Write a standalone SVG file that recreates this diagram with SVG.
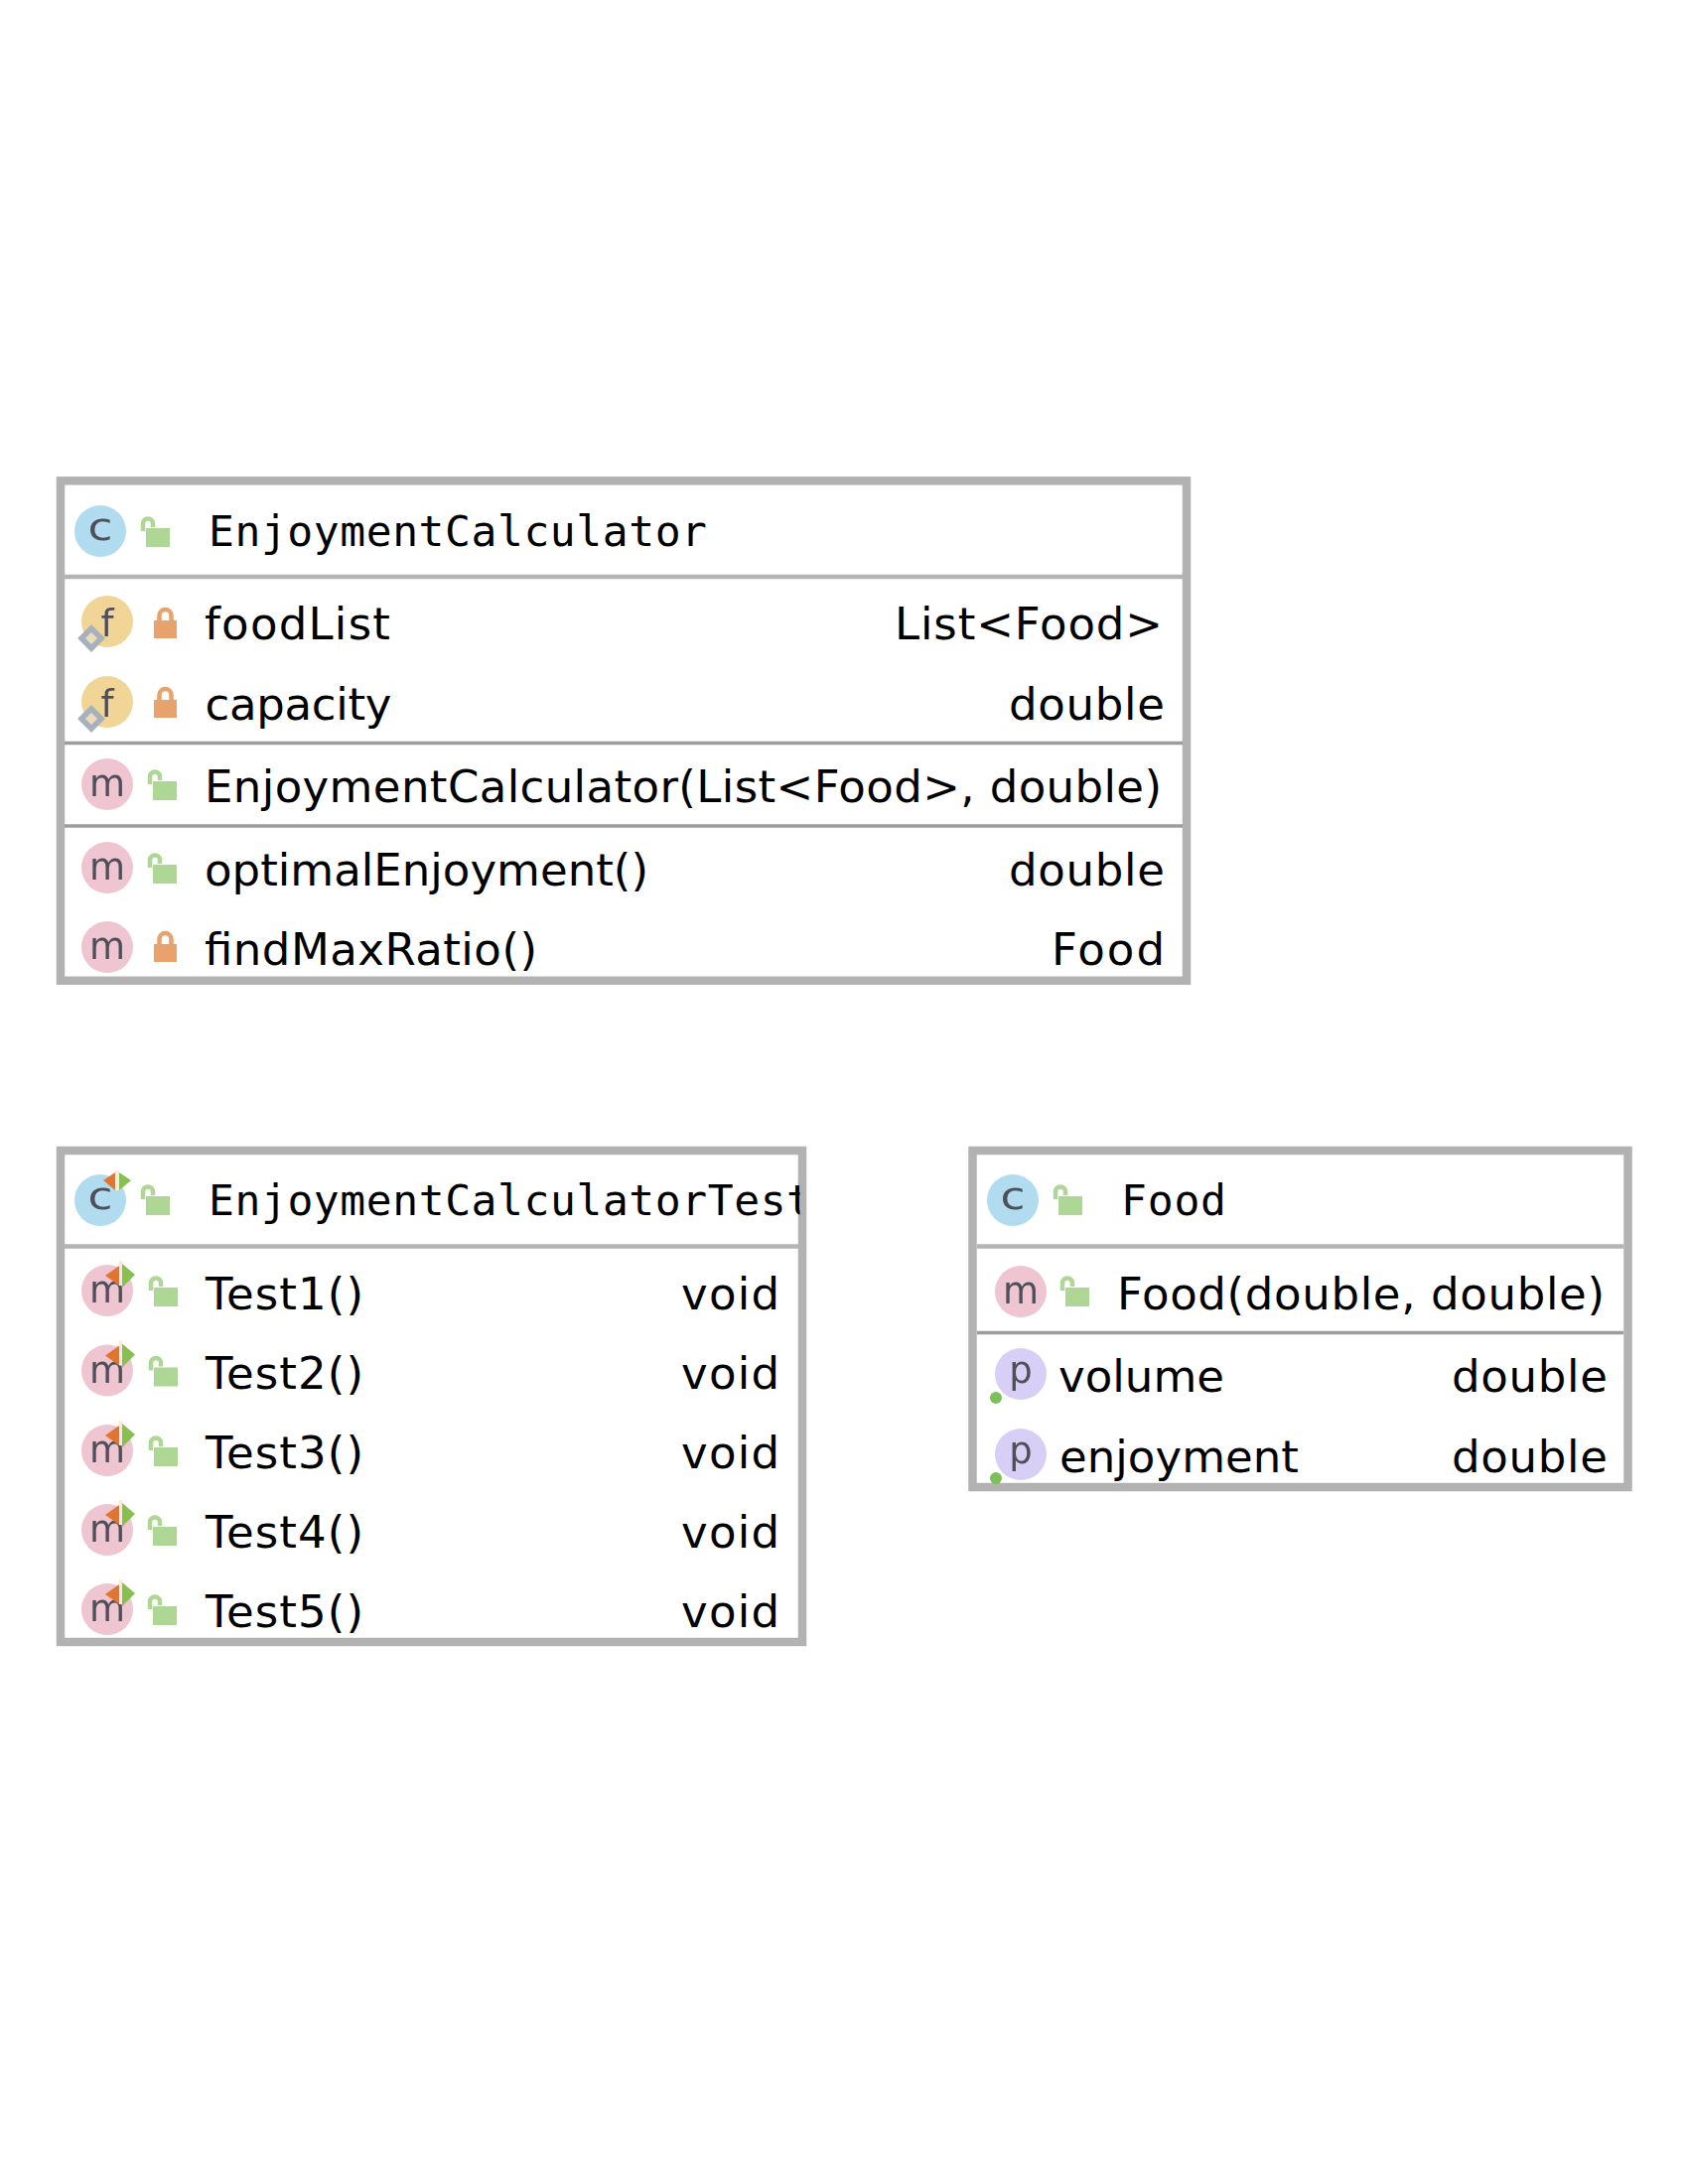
<svg xmlns="http://www.w3.org/2000/svg" width="1700" height="2200" viewBox="0 0 1700 2200">
<style>
.box{fill:#fff;stroke:#b2b2b2;stroke-width:8.5}
.div{stroke:#b4b4b4;stroke-width:4.5}
.div2{stroke:#9c9c9c;stroke-width:3.5}
.t{font-family:"DejaVu Sans","Liberation Sans",sans-serif;font-size:45px;fill:#000}
.h{font-family:"DejaVu Sans Mono","Liberation Mono",monospace;font-size:43px;fill:#000}
.l{font-family:"DejaVu Sans","Liberation Sans",sans-serif;font-size:37px;fill:#50505a;text-anchor:middle}
.ic{filter:url(#soft)}
.c{fill:#b1dcef}.m{fill:#efc5d1}.f{fill:#f0d597}.p{fill:#d8cff6}
.gr{fill:#aed694}.or{fill:#e8a26e}
.grs{fill:none;stroke:#aed694;stroke-width:4.5}.ors{fill:none;stroke:#e8a26e;stroke-width:4.5}
</style>
<defs>
<filter id="soft" x="-10%" y="-10%" width="120%" height="120%"><feGaussianBlur stdDeviation="0.7"/></filter>
<g id="open"><rect x="-7" y="-7" width="24" height="19" class="gr"/><path d="M-10 -4V-11.500A5 5 0 0 1 0 -11.500V-8" class="grs"/></g>
<g id="closed"><rect x="-11.500" y="-1" width="23" height="18" class="or"/><path d="M-6 -1V-6A6 6 0 0 1 6 -6V-1" class="ors"/></g>
<g id="final"><path d="M-10 0L0 -10L10 0L0 10Z" fill="#eadcb8" stroke="#a7b1bd" stroke-width="5.500"/></g>
<g id="runm"><path d="M-2 -15L12 -25L12 -5Z" fill="#e0752f"/><rect x="12" y="-30" width="3" height="25" fill="#fbe8d8"/><path d="M15 -27L28 -16L15 -3Z" fill="#86c050"/></g>
<g id="runc"><path d="M3 -20L15 -28L15 -10Z" fill="#e0752f"/><rect x="15" y="-30" width="4" height="20" fill="#fbe8d8"/><path d="M19 -28L31 -20L19 -10Z" fill="#86c050"/></g>
<clipPath id="clip2"><rect x="65" y="1163" width="740.500" height="90"/></clipPath>
</defs>
<rect width="1700" height="2200" fill="#fff"/>
<g id="connectors"></g>
<g id="EnjoymentCalculator">
<rect class="box" x="61" y="484.300" width="1134" height="503.500"/>
<line class="div" x1="65" x2="1191" y1="581" y2="581"/>
<line class="div2" x1="65" x2="1191" y1="748.500" y2="748.500"/>
<line class="div2" x1="65" x2="1191" y1="832" y2="832"/>
<g class="ic"><circle class="c" cx="101" cy="535" r="26"/><text class="l" x="101" y="544" textLength="25" lengthAdjust="spacingAndGlyphs">c</text><use href="#open" x="154" y="539"/></g>
<text class="h" x="210" y="550" textLength="502">EnjoymentCalculator</text>
<g class="ic"><circle class="f" cx="108" cy="626" r="26"/><text class="l" x="108" y="641">f</text><use href="#final" x="92" y="643"/><use href="#closed" x="166.500" y="626"/></g>
<text class="t" x="206" y="643.500" textLength="187">foodList</text><text class="t" x="901" y="643.500" textLength="270">List&lt;Food&gt;</text>
<g class="ic"><circle class="f" cx="108" cy="707" r="26"/><text class="l" x="108" y="722">f</text><use href="#final" x="92" y="724"/><use href="#closed" x="166.500" y="706"/></g>
<text class="t" x="206.500" y="724.500" textLength="188">capacity</text><text class="t" x="1016" y="724.500" textLength="157">double</text>
<g class="ic"><circle class="m" cx="108" cy="790" r="26"/><text class="l" x="108" y="802">m</text><use href="#open" x="161" y="794"/></g>
<text class="t" x="206" y="807.500" textLength="964">EnjoymentCalculator(List&lt;Food&gt;, double)</text>
<g class="ic"><circle class="m" cx="108" cy="874" r="26"/><text class="l" x="108" y="886">m</text><use href="#open" x="161" y="878"/></g>
<text class="t" x="206" y="891.500" textLength="447">optimalEnjoyment()</text><text class="t" x="1016" y="891.500" textLength="157">double</text>
<g class="ic"><circle class="m" cx="108" cy="954" r="26"/><text class="l" x="108" y="966">m</text><use href="#closed" x="166.500" y="952"/></g>
<text class="t" x="206" y="971.500" textLength="335">findMaxRatio()</text><text class="t" x="1059" y="971.500" textLength="114">Food</text>
</g>
<g id="EnjoymentCalculatorTest">
<rect class="box" x="61" y="1159" width="747" height="495"/>
<line class="div" x1="65" x2="804" y1="1255.500" y2="1255.500"/>
<g class="ic"><circle class="c" cx="101" cy="1209" r="26"/><text class="l" x="101" y="1218" textLength="25" lengthAdjust="spacingAndGlyphs">c</text><use href="#runc" x="101" y="1209"/><use href="#open" x="154" y="1212"/></g>
<text class="h" x="210" y="1224" textLength="608" clip-path="url(#clip2)">EnjoymentCalculatorTest</text>
<g class="ic"><circle class="m" cx="108" cy="1300" r="26"/><text class="l" x="108" y="1312">m</text><use href="#runm" x="108" y="1300"/><use href="#open" x="162" y="1304"/></g>
<text class="t" x="207" y="1318.500" textLength="159">Test1()</text><text class="t" x="686" y="1318.500" textLength="99">void</text>
<g class="ic"><circle class="m" cx="108" cy="1380.500" r="26"/><text class="l" x="108" y="1392.500">m</text><use href="#runm" x="108" y="1380.500"/><use href="#open" x="162" y="1384.500"/></g>
<text class="t" x="207" y="1398.500" textLength="159">Test2()</text><text class="t" x="686" y="1398.500" textLength="99">void</text>
<g class="ic"><circle class="m" cx="108" cy="1461" r="26"/><text class="l" x="108" y="1473">m</text><use href="#runm" x="108" y="1461"/><use href="#open" x="162" y="1465"/></g>
<text class="t" x="207" y="1478.500" textLength="159">Test3()</text><text class="t" x="686" y="1478.500" textLength="99">void</text>
<g class="ic"><circle class="m" cx="108" cy="1541" r="26"/><text class="l" x="108" y="1553">m</text><use href="#runm" x="108" y="1541"/><use href="#open" x="161" y="1545"/></g>
<text class="t" x="207" y="1558.500" textLength="159">Test4()</text><text class="t" x="686" y="1558.500" textLength="99">void</text>
<g class="ic"><circle class="m" cx="108" cy="1621" r="26"/><text class="l" x="108" y="1633">m</text><use href="#runm" x="108" y="1621"/><use href="#open" x="161" y="1625"/></g>
<text class="t" x="207" y="1638.500" textLength="159">Test5()</text><text class="t" x="686" y="1638.500" textLength="99">void</text>
</g>
<g id="Food">
<rect class="box" x="979.500" y="1159" width="660" height="339"/>
<line class="div" x1="984" x2="1635" y1="1255.500" y2="1255.500"/>
<line class="div2" x1="984" x2="1635" y1="1342.500" y2="1342.500"/>
<g class="ic"><circle class="c" cx="1020" cy="1209" r="26"/><text class="l" x="1020" y="1218" textLength="25" lengthAdjust="spacingAndGlyphs">c</text><use href="#open" x="1073" y="1212"/></g>
<text class="h" x="1129" y="1224" textLength="106">Food</text>
<g class="ic"><circle class="m" cx="1028" cy="1301" r="26"/><text class="l" x="1028" y="1313">m</text><use href="#open" x="1080" y="1304"/></g>
<text class="t" x="1125" y="1318.500" textLength="491">Food(double, double)</text>
<g class="ic"><circle class="p" cx="1028" cy="1384" r="26"/><text class="l" x="1028" y="1393">p</text><circle cx="1003" cy="1408" r="6" fill="#7cc05a"/></g>
<text class="t" x="1066" y="1401.500" textLength="167">volume</text><text class="t" x="1462" y="1401.500" textLength="157">double</text>
<g class="ic"><circle class="p" cx="1028" cy="1465" r="26"/><text class="l" x="1028" y="1474">p</text><circle cx="1003" cy="1489" r="6" fill="#7cc05a"/></g>
<text class="t" x="1067" y="1482.500" textLength="241">enjoyment</text><text class="t" x="1462" y="1482.500" textLength="157">double</text>
</g>
</svg>
